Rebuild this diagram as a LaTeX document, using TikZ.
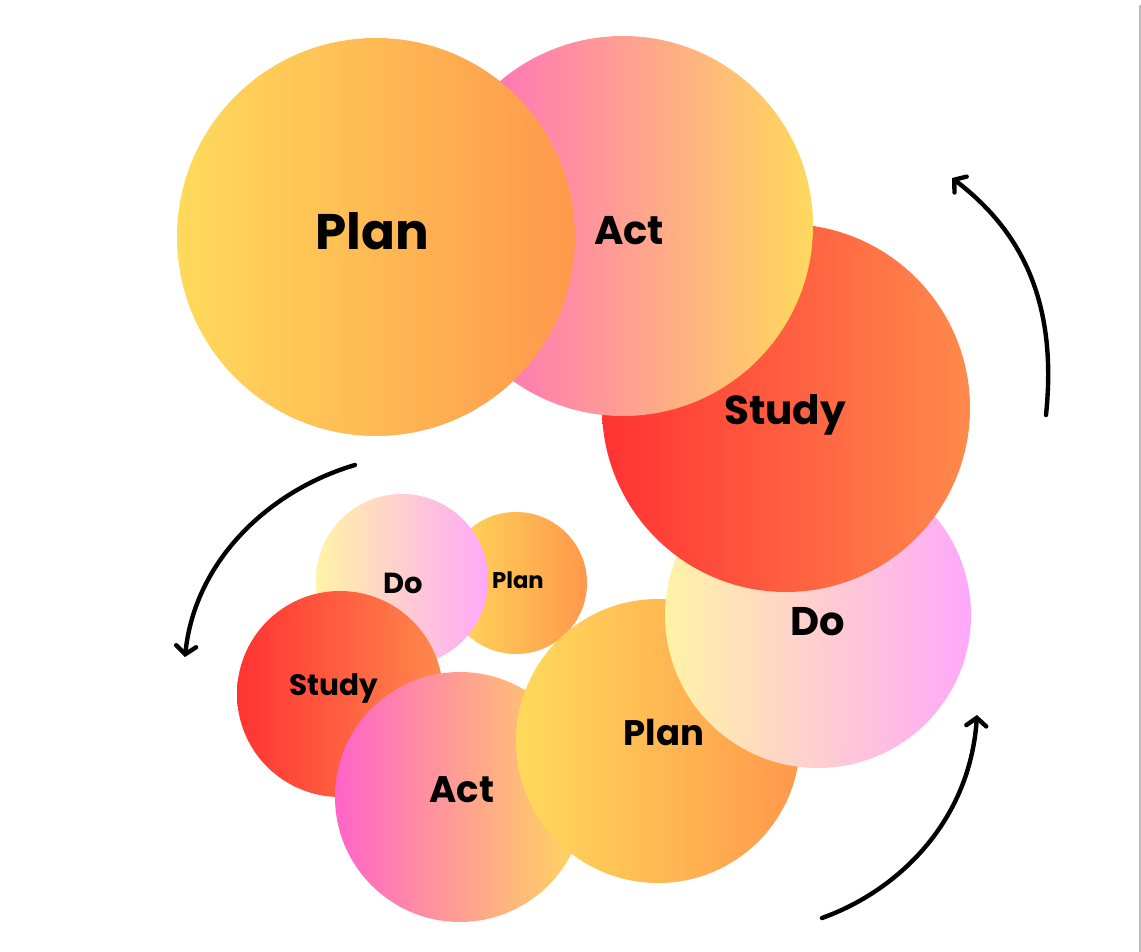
\documentclass[tikz,border=0pt]{standalone}
\usepackage{fontspec}
\setmainfont{Poppins}
\usetikzlibrary{arrows.meta}

\definecolor{planL}{HTML}{FFDA5B}
\definecolor{planR}{HTML}{FF984C}
\definecolor{actL}{HTML}{FF64C8}
\definecolor{actR}{HTML}{FFD95C}
\definecolor{studyL}{HTML}{FF3333}
\definecolor{studyR}{HTML}{FF8A4C}
\definecolor{doL}{HTML}{FFF3A6}
\definecolor{doR}{HTML}{FFA8FA}
\definecolor{frameline}{HTML}{BDBDBD}

\tikzset{
  disc/.style={circle, draw=none, inner sep=0pt, minimum size=#1},
  planfill/.style={left color=planL, right color=planR},
  actfill/.style={left color=actL, right color=actR},
  studyfill/.style={left color=studyL, right color=studyR},
  dofill/.style={left color=doL, right color=doR},
  lbl/.style={anchor=base, inner sep=0pt, text=black,
    font=\fontsize{#1}{#1}\selectfont\bfseries},
  cyclearrow/.style={line width=4.4pt, line cap=round,
    -{Straight Barb[length=8pt,width=20pt,line cap=round]}},
}

\begin{document}
\begin{tikzpicture}[x=1pt,y=-1pt]
  \useasboundingbox (0,0) rectangle (1141,952);
  \fill[white] (0,0) rectangle (1141,952);
  \draw[frameline, line width=1.4pt] (1140,5) -- (1140,952);

  % lower cluster, back to front
  \node[disc=142pt, planfill]  (planS)  at (516,583) {};
  \node[disc=172pt, dofill]    (doS)    at (402,580) {};
  \node[disc=206pt, studyfill] (studyM) at (340,694) {};
  \node[disc=250pt, actfill]   (actM)   at (460,797) {};
  \node[disc=284pt, planfill]  (planM)  at (658,741) {};

  % upper cluster, back to front
  \node[disc=306pt, dofill]    (doL)    at (818,615) {};
  \node[disc=368pt, studyfill] (studyL) at (786,408) {};
  \node[disc=380pt, actfill]   (actL)   at (623,226) {};
  \node[disc=398pt, planfill]  (planL)  at (376,237) {};

  % labels
  \node[lbl=50pt]   (tPlanL)  at (372,250) {Plan};
  \node[lbl=40pt]   (tActL)   at (629,245) {Act};
  \node[lbl=40.5pt] (tStudyL) at (785,424) {Study};
  \node[lbl=40pt]   (tDoL)    at (818,635) {Do};
  \node[lbl=35.5pt] (tPlanM)  at (664,745) {Plan};
  \node[lbl=37pt]   (tActM)   at (462,802) {Act};
  \node[lbl=29.5pt] (tStudyM) at (334,695) {Study};
  \node[lbl=29pt]   (tDoS)    at (403,593) {Do};
  \node[lbl=22.7pt] (tPlanS)  at (518,588) {Plan};

  % cycle arrows
  \coordinate (a1s) at (1046,415);
  \coordinate (a1e) at (952,178);
  \coordinate (a2s) at (355,465);
  \coordinate (a2e) at (185,657);
  \coordinate (a3s) at (822,918);
  \coordinate (a3e) at (977,715);
  \draw[cyclearrow] (a1s) .. controls (1058,300) and (1020,230) .. (a1e);
  \draw[cyclearrow] (a2s) .. controls (270,490) and (195,560) .. (a2e);
  \draw[cyclearrow] (a3s) .. controls (900,890) and (970,820) .. (a3e);
\end{tikzpicture}
\end{document}
